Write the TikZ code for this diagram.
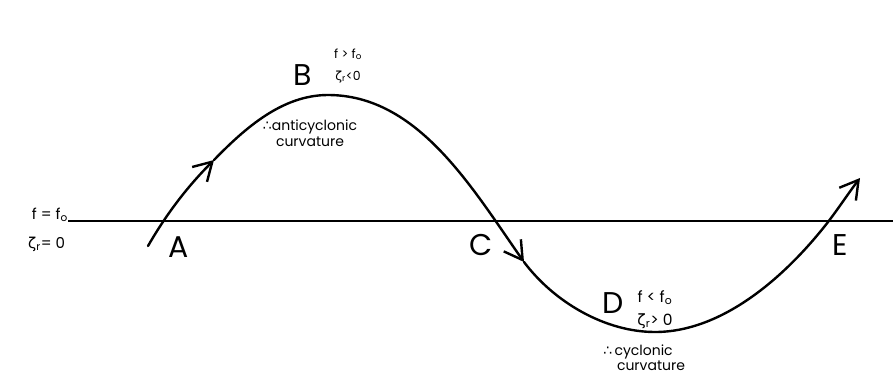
\documentclass[tikz,border=0pt]{standalone}
\usepackage{fontspec}
\setmainfont{Poppins}
\newfontfamily\grk{DejaVu Sans}
\usetikzlibrary{arrows.meta}
\newcommand\zr{{\grk ζ}\textsubscript{r}}
\newcommand\fo{f\textsubscript{o}}
\newcommand\thr{{\grk ∴}}
\tikzset{
  curve/.style={line width=2.4pt, line cap=round, line join=round},
  barb/.style={-{Straight Barb[length=18pt,width=21pt]}},
  axis/.style={line width=1.9pt},
  big/.style={font=\fontsize{30}{30}\selectfont, inner sep=0pt, anchor=base},
  lbl/.style={inner sep=0pt, anchor=base},
}
\begin{document}
\begin{tikzpicture}[x=1pt,y=-1pt]
\useasboundingbox (0,0) rectangle (893,380);
\fill[white] (0,0) rectangle (893,380);
% reference line
\coordinate (L0) at (68,221);
\coordinate (L1) at (893,221);
\draw[axis] (L0) -- (L1);
% curve points
\coordinate (P0) at (148,246);
\coordinate (P1) at (214,160);
\coordinate (P2) at (328,95);
\coordinate (P3) at (524,262);
\coordinate (P4) at (655,332);
\coordinate (P5) at (828,222);
\coordinate (P6) at (860,178);
\draw[curve,barb] (P0) .. controls (167,213) and (188,186) .. (P1);
\draw[curve,barb] (P1) .. controls (246,127) and (283,95) .. (P2)
                   .. controls (418,95) and (472,188) .. (P3);
\draw[curve,barb] (P3) .. controls (554,302) and (605,332) .. (P4)
                   .. controls (723,332) and (786,276) .. (P5)
                   .. controls (838,209) and (850,191) .. (P6);
% point labels
\node[big] (A) at (179,257) {A};
\node[big] (B) at (303,85) {B};
\node[big] (C) at (481,255) {C};
\node[big] (D) at (613,313) {D};
\node[big] (E) at (840,255) {E};
% left labels
\node[lbl, anchor=base east, font=\fontsize{15}{15}\selectfont] (f0) at (68,219) {f = \fo};
\node[lbl, anchor=base west, font=\fontsize{15}{15}\selectfont] (z0) at (28,248) {\zr = 0};
% B labels
\node[lbl, font=\fontsize{12.5}{13}\selectfont] (fB) at (348,58) {f > \fo};
\node[lbl, font=\fontsize{12.5}{13}\selectfont] (zB) at (348,80) {\zr<0};
\node[lbl, font=\fontsize{14}{14}\selectfont] (aB) at (310,130) {\thr anticyclonic};
\node[lbl, font=\fontsize{14}{14}\selectfont] (cB) at (310,146) {curvature};
% D labels
\node[lbl, font=\fontsize{15.5}{16}\selectfont] (fD) at (655,302) {f < \fo};
\node[lbl, font=\fontsize{15.5}{16}\selectfont] (zD) at (655,325) {\zr > 0};
\node[lbl, font=\fontsize{14}{14}\selectfont] (aD) at (638,355) {\thr\,cyclonic};
\node[lbl, font=\fontsize{14}{14}\selectfont] (cD) at (651,370) {curvature};
\end{tikzpicture}
\end{document}
